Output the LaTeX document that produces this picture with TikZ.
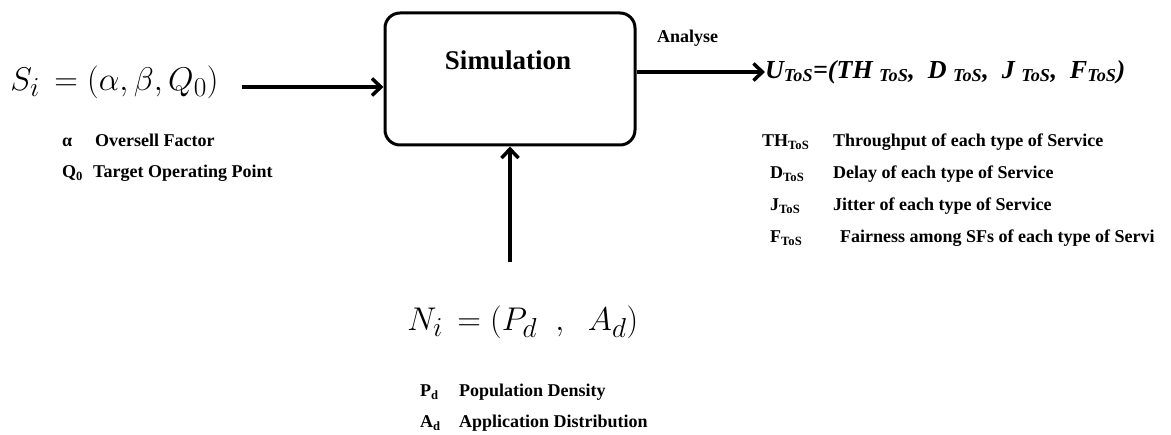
\documentclass[tikz,border=0pt]{standalone}
\usepackage{fontspec}
\setmainfont{Liberation Serif}
\usepackage{tikz}
\usetikzlibrary{arrows.meta,positioning}

\begin{document}
\begin{tikzpicture}[x=1pt,y=-1pt,>={Straight Barb[length=9pt,width=17pt]},
  lbl/.style={font=\fontsize{18}{20}\selectfont\bfseries,inner sep=0pt,anchor=west,text height=13pt,text depth=4pt},
  form/.style={font=\fontsize{24.88}{30}\selectfont,inner sep=0pt,anchor=west,scale=1.32},
  flow/.style={->,line width=3.5pt}]
  \useasboundingbox (0,0) rectangle (1171,435);
  % simulation block
  \node[draw,line width=3pt,rounded corners=15pt,minimum width=250pt,minimum height=132pt] (sim) at (510,79) {};
  \node[font=\fontsize{27}{30}\selectfont\bfseries] (simtxt) at (508,60) {Simulation};
  % input scenario
  \node[form] (sform) at (10,82) {$S_i\,=(\alpha,\beta,Q_0)$};
  \node[lbl] (alpha) at (62,142) {α};
  \node[lbl] (alphatxt) at (95,142) {Oversell Factor};
  \node[lbl] (qnull) at (62,173) {Q\textsubscript{0}};
  \node[lbl] (qnulltxt) at (93,173) {Target Operating Point};
  % network
  \node[form] (nform) at (407,322) {$N_i\,=(P_d\;\;,\;\;A_d)$};
  \node[lbl] (pd) at (420,392) {P\textsubscript{d}};
  \node[lbl] (pdtxt) at (459,392) {Population Density};
  \node[lbl] (ad) at (420,423) {A\textsubscript{d}};
  \node[lbl] (adtxt) at (459,423) {Application Distribution};
  % output
  \node[font=\fontsize{26}{30}\selectfont\bfseries\itshape,inner sep=0pt,anchor=west] (uform) at (765,72)
    {U\textsubscript{ToS}=(TH \textsubscript{ToS},\ \ D \textsubscript{ToS},\ \ J \textsubscript{ToS},\ \ F\textsubscript{ToS})};
  \node[lbl] (analyse) at (657,38) {Analyse};
  \node[lbl] (th) at (762,142) {TH\textsubscript{ToS}};
  \node[lbl] (thtxt) at (833,142) {Throughput of each type of Service};
  \node[lbl] (d) at (770,174) {D\textsubscript{ToS}};
  \node[lbl] (dtxt) at (833,174) {Delay of each type of Service};
  \node[lbl] (j) at (770,206) {J\textsubscript{ToS}};
  \node[lbl] (jtxt) at (833,206) {Jitter of each type of Service};
  \node[lbl] (f) at (770,238) {F\textsubscript{ToS}};
  \node[lbl] (ftxt) at (840,238) {Fairness among SFs of each type of Servi};
  % connectors
  \draw[flow] ([xshift=23pt,yshift=-5pt]sform.east) -- ([yshift=-5pt]sform.east -| sim.west);
  \draw[flow] (sim.east |- uform.west) -- (uform.west);
  \draw[flow] ([yshift=43pt]nform.north -| sim.south) -- (sim.south);
\end{tikzpicture}
\end{document}
